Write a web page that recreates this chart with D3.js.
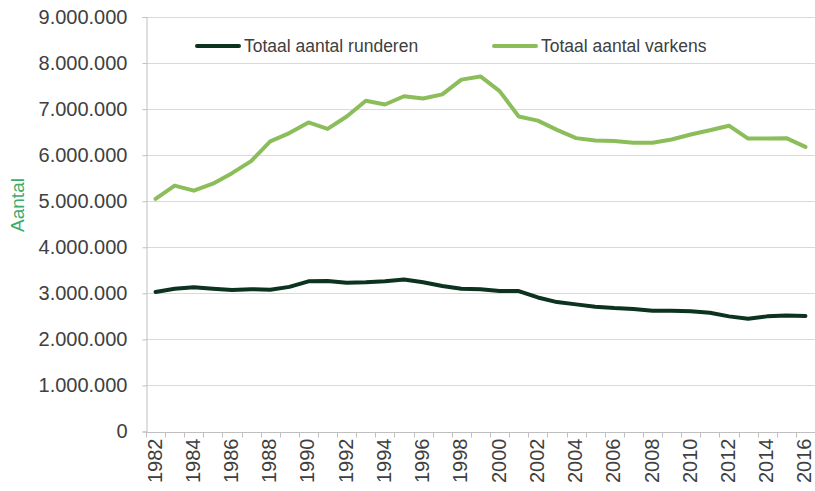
<!DOCTYPE html>
<html>
<head>
<meta charset="utf-8">
<script src="https://cdn.jsdelivr.net/npm/d3@7"></script>
<style>
  html, body { margin: 0; padding: 0; background: #fff; }
  svg { display: block; font-family: "Liberation Sans", Arial, sans-serif; }
</style>
</head>
<body>
<svg id="chart" width="815" height="491"></svg>
<script>
const years = [1982,1983,1984,1985,1986,1987,1988,1989,1990,1991,1992,1993,1994,1995,1996,1997,1998,1999,2000,2001,2002,2003,2004,2005,2006,2007,2008,2009,2010,2011,2012,2013,2014,2015,2016];
const runderen = [3030000,3100000,3130000,3100000,3070000,3090000,3080000,3140000,3260000,3270000,3230000,3240000,3260000,3300000,3240000,3160000,3100000,3090000,3050000,3050000,2910000,2810000,2760000,2710000,2680000,2660000,2620000,2620000,2610000,2580000,2500000,2450000,2500000,2520000,2510000];
const varkens = [5050000,5340000,5230000,5380000,5610000,5870000,6300000,6480000,6710000,6570000,6840000,7180000,7100000,7280000,7230000,7320000,7640000,7710000,7390000,6840000,6750000,6550000,6370000,6320000,6310000,6270000,6270000,6340000,6450000,6540000,6640000,6360000,6360000,6370000,6180000];
const yTicks = [0,1000000,2000000,3000000,4000000,5000000,6000000,7000000,8000000,9000000];
const xLabelYears = years.filter(y => y % 2 === 0);
const seriesNames = ["Totaal aantal runderen", "Totaal aantal varkens"];
const seriesColors = ["#0c3220", "#8cbd5b"];

(function () {
const svg = d3.select("#chart");
const mLeft = 146, mRight = 815, mTop = 17, mBottom = 431.5;

const x = d3.scaleBand().domain(years).range([mLeft, mRight]);
const y = d3.scaleLinear().domain([0, 9000000]).range([mBottom, mTop]);
const fmt = v => d3.format(",")(v).replace(/,/g, ".");

// gridlines
svg.append("g").selectAll("line").data(yTicks.filter(d => d > 0)).join("line")
  .attr("x1", mLeft).attr("x2", mRight)
  .attr("y1", d => Math.round(y(d)) + 0.5).attr("y2", d => Math.round(y(d)) + 0.5)
  .attr("stroke", "#d9d9d9").attr("stroke-width", 1);

// y axis
const yAxis = svg.append("g").attr("transform", `translate(${mLeft + 0.5},0)`)
  .call(d3.axisLeft(y).tickValues(yTicks).tickFormat(fmt).tickSize(4).tickPadding(15));
yAxis.select(".domain").attr("stroke", "#bfbfbf");
yAxis.selectAll(".tick line").attr("stroke", "#bfbfbf");
yAxis.selectAll(".tick text").attr("fill", "#404040").attr("font-size", "20px")
  .attr("font-family", '"Liberation Sans", Arial, sans-serif');

// x axis
const xAxisG = svg.append("g").attr("transform", `translate(0,${Math.round(mBottom) + 0.5})`);
xAxisG.append("line").attr("x1", mLeft).attr("x2", mRight).attr("stroke", "#bfbfbf");
xAxisG.selectAll("line.tk").data(years.concat([null])).join("line").attr("class", "tk")
  .attr("x1", (d, i) => Math.round(mLeft + i * x.step()) + 0.5)
  .attr("x2", (d, i) => Math.round(mLeft + i * x.step()) + 0.5)
  .attr("y1", 0).attr("y2", 5).attr("stroke", "#bfbfbf");
xAxisG.selectAll("text").data(xLabelYears).join("text")
  .attr("transform", d => `translate(${x(d) + x.bandwidth() / 2 - 1},6) rotate(-90)`)
  .attr("text-anchor", "end").attr("dy", "0.35em")
  .attr("fill", "#404040").attr("font-size", "20px")
  .text(d => d);

// axis title
svg.append("text")
  .attr("transform", "translate(17,205) rotate(-90)")
  .attr("text-anchor", "middle").attr("dy", "0.36em")
  .attr("fill", "#3dab6a").attr("font-size", "19px")
  .text("Aantal");

// lines
const line = d3.line().x((d, i) => x(years[i]) + x.bandwidth() / 2).y(d => y(d));
[runderen, varkens].forEach((s, k) => {
  svg.append("path").datum(s).attr("d", line)
    .attr("fill", "none").attr("stroke", seriesColors[k]).attr("stroke-width", 4)
    .attr("stroke-linejoin", "round").attr("stroke-linecap", "round");
});

// legend
const legendX = [197, 494];
const lg = svg.append("g");
seriesNames.forEach((name, k) => {
  lg.append("line").attr("x1", legendX[k]).attr("x2", legendX[k] + 42)
    .attr("y1", 46).attr("y2", 46)
    .attr("stroke", seriesColors[k]).attr("stroke-width", 4).attr("stroke-linecap", "round");
  lg.append("text").attr("x", legendX[k] + 47).attr("y", 46).attr("dy", "0.36em")
    .attr("fill", "#404040").attr("font-size", "17.5px").text(name);
});
})();
</script>
</body>
</html>
